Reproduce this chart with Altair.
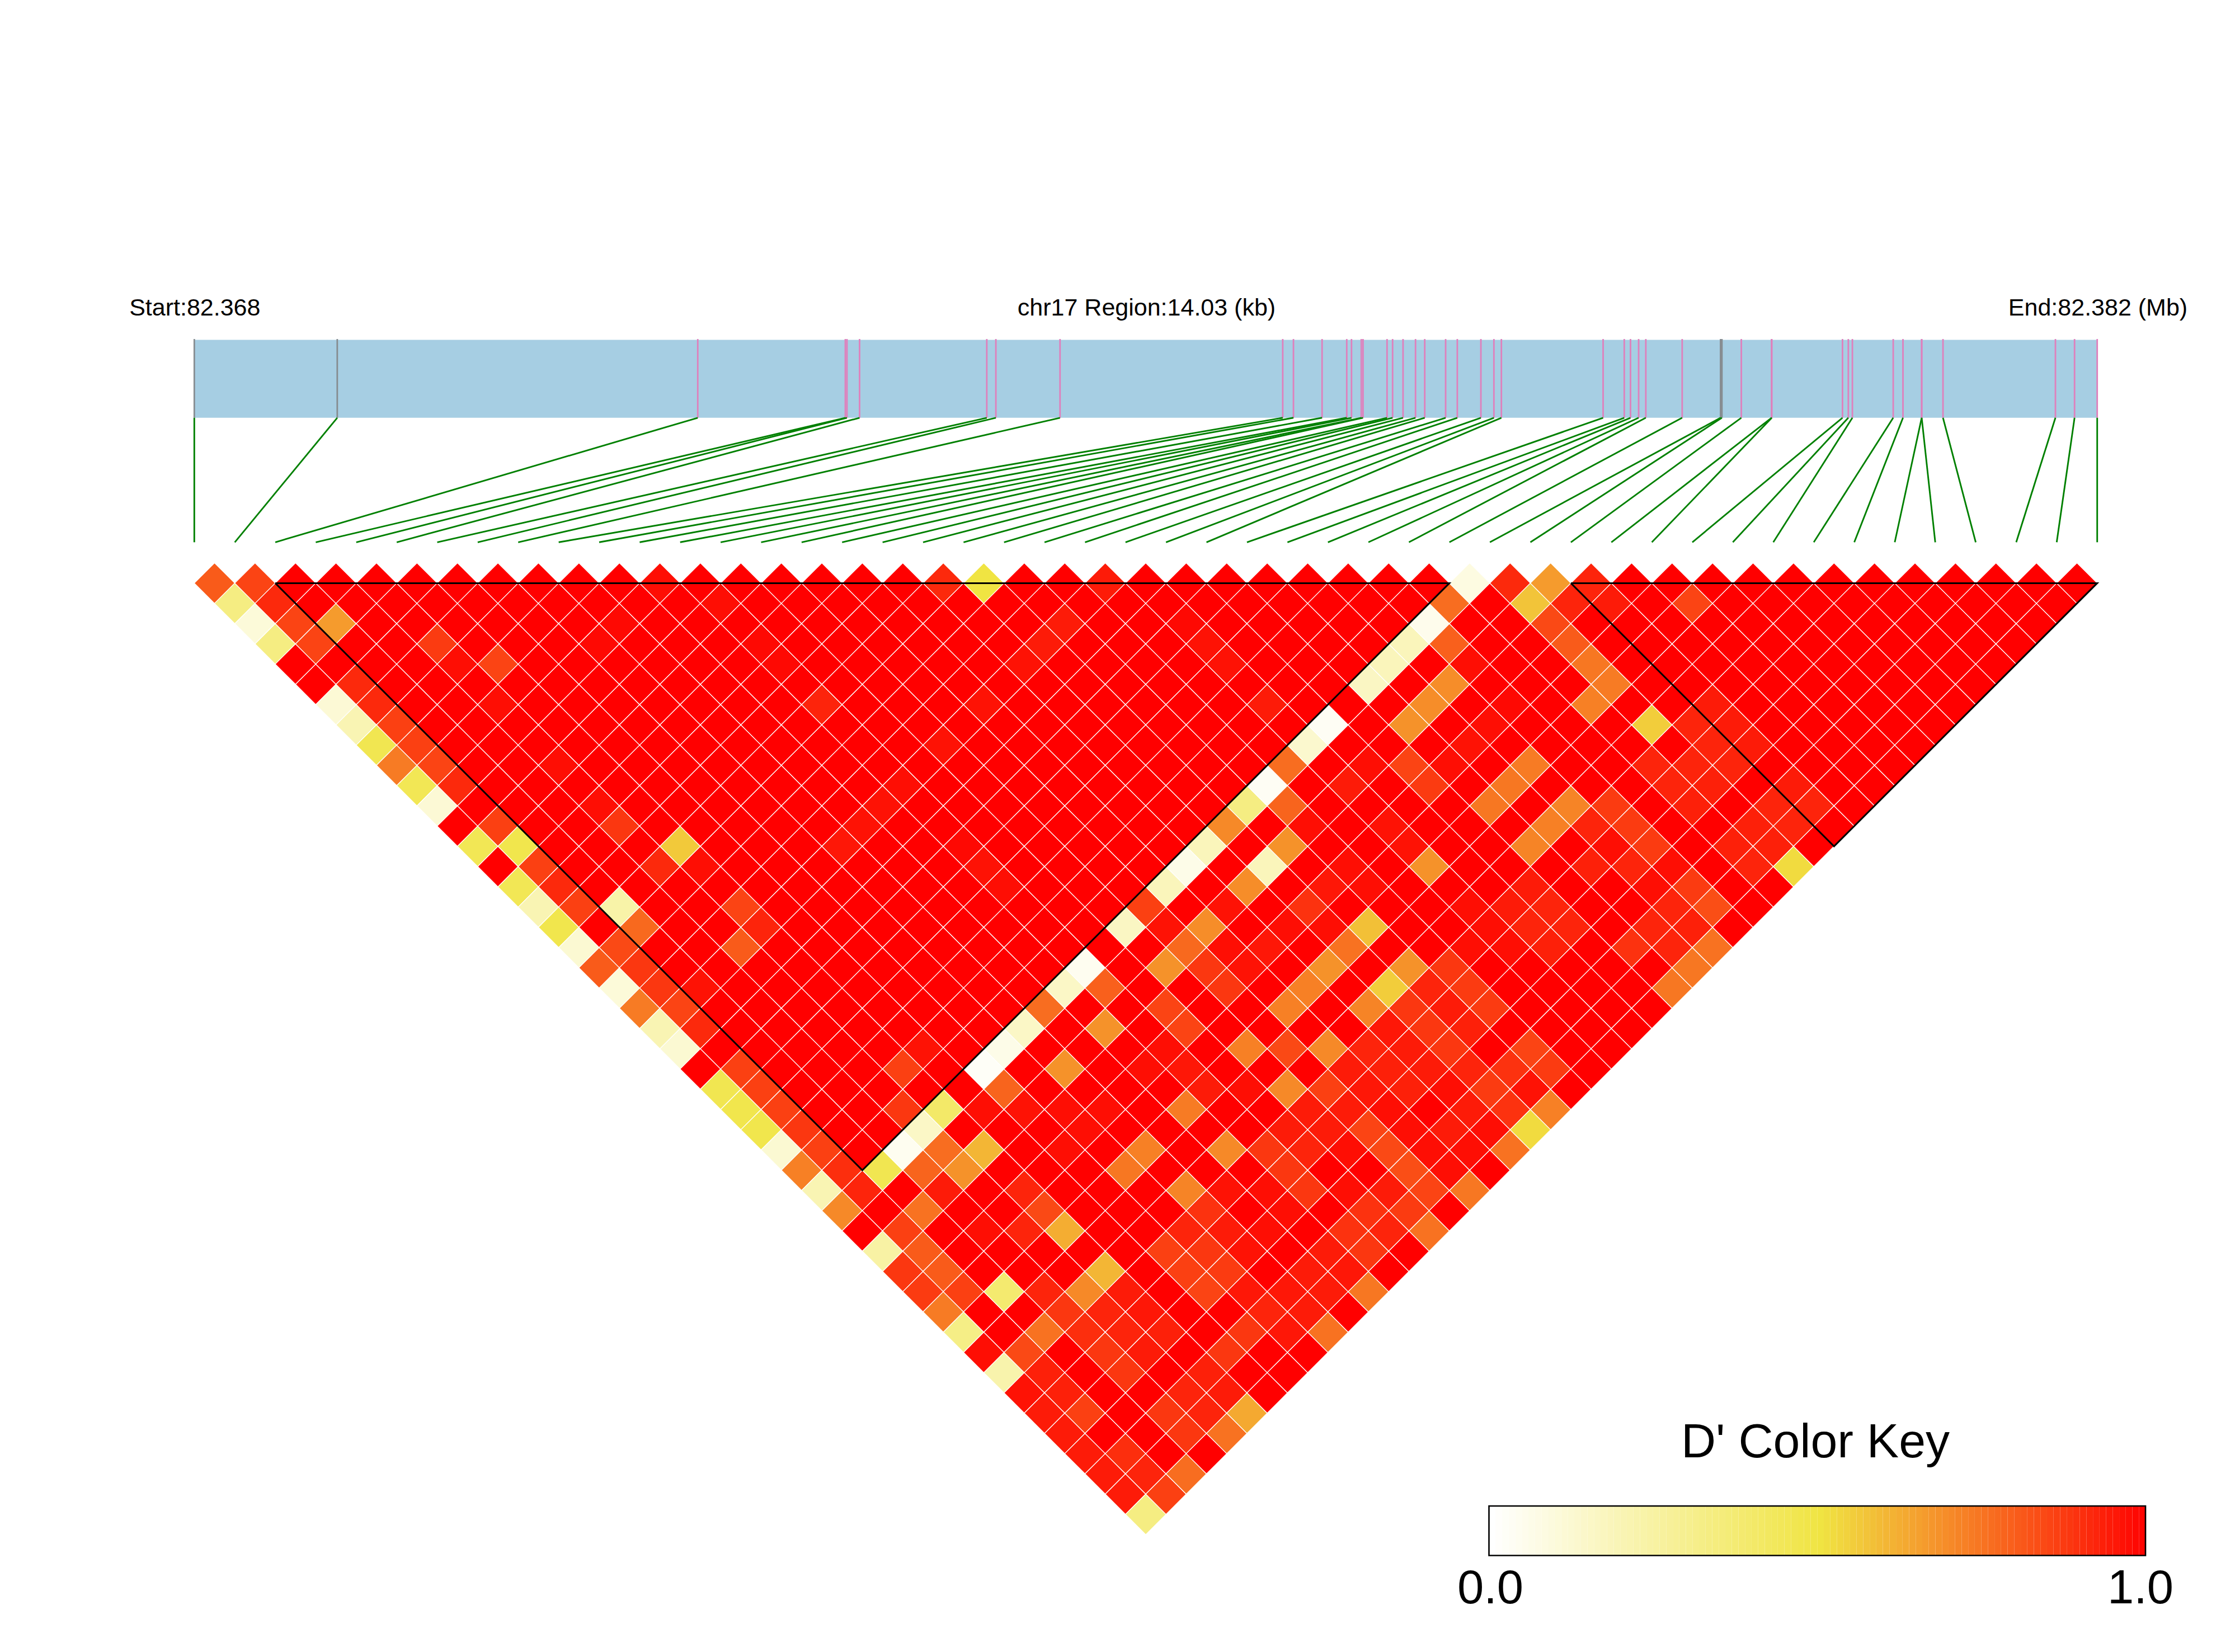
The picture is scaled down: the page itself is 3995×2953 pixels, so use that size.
import altair as alt
import pandas as pd

# ---------- data ----------
REGION_KB = 14.03
N_SNP = 48
# SNP positions along the region, kb from the start
SNP_KB = [0, 1.054, 3.712, 4.800, 4.812, 4.905, 5.843, 5.910, 6.383, 8.025, 8.104, 8.315,
          8.497, 8.532, 8.604, 8.617, 8.794, 8.835, 8.912, 9.004, 9.072, 9.226, 9.312, 9.486,
          9.582, 9.637, 10.387, 10.543, 10.589, 10.649, 10.702, 10.970, 11.253, 11.263, 11.406,
          11.629, 11.631, 12.152, 12.195, 12.225, 12.526, 12.598, 12.736, 12.736, 12.893,
          13.722, 13.863, 14.03]
GRAY_SNPS = [0, 1, 32, 33]
LD_BLOCKS = [(2, 31), (34, 47)]

# D' of every pair below 1.0, one table for each right-hand SNP j: {i: D'}
j01 = {0: .80}
j02 = {0: .33, 1: .85}
j03 = {0: .10, 1: .91}
j04 = {0: .33, 1: .85}
j05 = {1: .85, 2: .66}
j07 = {0: .11, 1: .91}
j08 = {0: .20, 1: .91, 4: .87}
j09 = {0: .46, 1: .86, 4: .97}
j10 = {0: .73, 1: .86, 5: .85}
j11 = {0: .45, 1: .85, 4: .97}
j12 = {0: .11, 1: .91, 8: .98, 9: .98, 11: .97}
j14 = {0: .45, 1: .86, 4: .97, 12: .97}
j15 = {1: .47}
j16 = {0: .45, 1: .86, 4: .97, 12: .98}
j17 = {0: .20, 1: .91, 4: .88, 12: .98}
j18 = {0: .47, 1: .86}
j19 = {0: .12, 2: .23, 4: .91, 5: .56, 12: .92, 18: .91}
j20 = {0: .80, 1: .84, 2: .77, 5: .97, 19: .50}
j21 = {0: .10, 1: .88}
j22 = {0: .73, 1: .88, 5: .85}
j23 = {0: .20, 1: .85, 2: .96, 4: .80, 5: .92, 9: .95, 10: .96, 11: .96, 12: .97, 14: .96,
       16: .96, 18: .96, 19: .94, 20: .94, 22: .94}
j24 = {0: .12, 1: .91}
j26 = {0: .46, 1: .86, 12: .98, 23: .98}
j27 = {0: .47, 1: .86, 12: .96, 23: .96}
j28 = {0: .47, 1: .86, 12: .97, 23: .96}
j29 = {0: .12, 1: .88}
j30 = {0: .72, 1: .86, 5: .86, 6: .96, 23: .94}
j31 = {0: .20, 1: .90, 4: .88}
j32 = {0: .70, 1: .92, 2: .46, 3: .04, 4: .15, 5: .40, 7: .02, 8: .06, 9: .15, 10: .76, 11: .15,
       12: .04, 14: .16, 15: .86, 16: .18, 17: .06, 18: .18, 19: .70, 20: .33, 21: .03, 22: .76,
       23: .13, 24: .03, 26: .16, 27: .18, 28: .18, 29: .05, 30: .76, 31: .08}
j33 = {3: .78, 4: .76, 6: .97, 7: .78, 12: .79, 15: .96, 21: .78, 29: .79, 32: .91}
j34 = {0: .24, 1: .86, 2: .75, 3: .94, 4: .68, 5: .60, 7: .96, 9: .68, 11: .68, 14: .68, 15: .77,
       16: .69, 17: .96, 18: .69, 19: .18, 20: .68, 21: .97, 23: .94, 24: .97, 26: .68, 27: .69,
       28: .69, 29: .97, 32: .57, 33: .66}
j35 = {0: .88, 1: .80, 8: .97, 13: .85, 15: .88, 16: .97, 25: .85, 32: .84, 33: .92, 34: .92}
j36 = {0: .87, 1: .80, 3: .97, 5: .92, 7: .97, 8: .97, 9: .97, 11: .97, 12: .97, 13: .85, 15: .88,
       16: .96, 17: .95, 18: .97, 19: .89, 20: .95, 21: .97, 23: .96, 25: .87, 26: .97, 27: .96,
       28: .97, 29: .98, 32: .80, 34: .94}
j37 = {0: .73, 1: .86, 4: .92, 5: .84, 12: .95, 19: .97, 21: .97, 23: .96, 32: .74}
j38 = {0: .32, 2: .38, 5: .62, 8: .74, 9: .72, 11: .73, 12: .94, 14: .72, 16: .72, 17: .72, 18: .68,
       19: .75, 20: .58, 23: .68, 26: .74, 27: .74, 28: .73, 31: .72, 32: .73, 36: .85}
j39 = {0: .97, 3: .92, 13: .97, 15: .84}
j40 = {0: .22, 1: .84, 2: .75, 3: .88, 4: .70, 5: .60, 9: .71, 11: .70, 14: .70, 16: .70, 18: .71,
       19: .55, 20: .68, 23: .97, 26: .71, 27: .72, 28: .71, 32: .55}
j41 = {0: .96, 1: .93, 3: .90, 4: .92, 5: .94, 7: .86, 8: .92, 9: .89, 10: .96, 12: .88, 13: .94,
       14: .94, 15: .86, 16: .94, 17: .92, 18: .95, 19: .88, 20: .92, 21: .88, 22: .97, 23: .97,
       24: .94, 25: .94, 28: .92, 29: .87, 31: .92, 33: .92, 34: .94}
j42 = {0: .94, 1: .93, 3: .88, 4: .92, 5: .95, 7: .86, 8: .88, 9: .94, 11: .97, 12: .88, 13: .92,
       14: .94, 15: .94, 16: .95, 17: .93, 18: .94, 19: .88, 20: .94, 21: .87, 23: .97, 24: .92,
       25: .92, 27: .93, 28: .97, 29: .87, 31: .92, 32: .92, 33: .92, 34: .94}
j43 = {0: .94, 1: .86, 3: .88, 4: .94, 5: .93, 7: .85, 8: .87, 9: .96, 10: .97, 11: .97, 12: .88,
       14: .97, 15: .85, 16: .97, 17: .93, 18: .94, 19: .88, 20: .93, 21: .87, 24: .93, 25: .92,
       28: .92, 29: .87, 31: .93, 32: .93, 33: .92, 34: .94}
j44 = {0: .94, 8: .95, 13: .97, 15: .84, 16: .97, 18: .97, 19: .92, 28: .97, 29: .97}
j45 = {0: .94, 1: .90, 3: .88, 4: .92, 5: .93, 6: .88, 7: .88, 8: .92, 9: .95, 10: .94, 11: .94,
       12: .89, 13: .89, 14: .94, 15: .83, 16: .97, 17: .94, 18: .94, 19: .87, 20: .89, 21: .85,
       26: .89, 27: .92, 28: .92, 29: .87, 31: .93, 32: .93, 33: .92, 34: .94}
j46 = {0: .94, 1: .92, 3: .88, 4: .92, 5: .94, 8: .95, 9: .94, 10: .94, 11: .95, 12: .88, 13: .92,
       14: .87, 15: .85, 16: .97, 17: .97, 18: .97, 19: .89, 20: .96, 21: .87, 27: .92, 28: .93,
       29: .83, 31: .92, 32: .93, 33: .92, 34: .92}
j47 = {0: .33, 1: .86, 2: .76, 4: .75, 5: .63, 9: .75, 11: .74, 14: .75, 16: .74, 18: .75, 19: .52,
       20: .72, 26: .74, 27: .74, 28: .75, 32: .52}
BELOW_ONE = {1: j01, 2: j02, 3: j03, 4: j04, 5: j05, 7: j07, 8: j08, 9: j09, 10: j10, 11: j11, 12: j12,
             14: j14, 15: j15, 16: j16, 17: j17, 18: j18, 19: j19, 20: j20, 21: j21, 22: j22, 23: j23,
             24: j24, 26: j26, 27: j27, 28: j28, 29: j29, 30: j30, 31: j31, 32: j32, 33: j33, 34: j34,
             35: j35, 36: j36, 37: j37, 38: j38, 39: j39, 40: j40, 41: j41, 42: j42, 43: j43, 44: j44,
             45: j45, 46: j46, 47: j47}
KEY_LEVELS = [k / 100 for k in range(100)]

# ---------- page geometry (picture pixels) ----------
W, H = 3975, 2930
SNP_X0, SNP_DX = 347.3, 72.37
ROW_Y0, ROW_DY = 1042.4, 36.185
BAR_TOP, BAR_BOTTOM, LINK_BOTTOM = 607.5, 746.8, 969.3
KEY_L, KEY_R, KEY_T, KEY_B = 2661.5, 3835.0, 2692.0, 2780.5
FONT = "Liberation Sans"


def sx(px):
    return (px - SNP_X0) / SNP_DX


def ry(py):
    return (py - ROW_Y0) / ROW_DY


x_scale = alt.Scale(domain=[sx(8), sx(8 + W)], nice=False, zero=False)
y_scale = alt.Scale(domain=[ry(8 + H), ry(8)], nice=False, zero=False)
color_scale = alt.Scale(domain=[0, 0.5, 1], range=["#FFFFFF", "#F0E442", "#FF0000"], interpolate="rgb")


def X(f):
    return alt.X(f, type="quantitative", scale=x_scale, axis=None)


def Y(f):
    return alt.Y(f, type="quantitative", scale=y_scale, axis=None)


def snp_s(kb):
    return kb / REGION_KB * (N_SNP - 1)


# ---------- tables ----------
cells = pd.DataFrame([
    {"s": (i + j) / 2, "r": j - i - 1, "d": BELOW_ONE.get(j, {}).get(i, 1.0)}
    for j in range(1, N_SNP) for i in range(j)
])
bar = pd.DataFrame({"a": [0], "b": [N_SNP - 1], "t": [ry(BAR_TOP)], "u": [ry(BAR_BOTTOM)]})
snps = pd.DataFrame({
    "s": [snp_s(k) for k in SNP_KB],
    "end": list(range(N_SNP)),
    "kind": ["gray" if i in GRAY_SNPS else "pink" for i in range(N_SNP)],
    "t": ry(BAR_TOP - 1.5), "u": ry(BAR_BOTTOM), "v": ry(LINK_BOTTOM),
})
tri = pd.DataFrame([
    {"block": n, "seq": q, "s": s, "r": r}
    for n, (a, b) in enumerate(LD_BLOCKS)
    for q, (s, r) in enumerate([(a, 0), (b, 0), ((a + b) / 2, b - a), (a, 0)])
])
head = pd.DataFrame({
    "label": ["Start:82.368", "chr17 Region:14.03 (kb)", "End:82.382 (Mb)"],
    "s": [sx(348.3), sx(2049.5), sx(3750)],
    "r": [ry(564)] * 3,
})
key_w = (KEY_R - KEY_L) / len(KEY_LEVELS)
key = pd.DataFrame({
    "d": KEY_LEVELS,
    "a": [sx(KEY_L + n * key_w) for n in range(len(KEY_LEVELS))],
    "b": [sx(KEY_L + (n + 1) * key_w) for n in range(len(KEY_LEVELS))],
    "t": ry(KEY_T), "u": ry(KEY_B),
})
key_box = pd.DataFrame({"a": [sx(KEY_L)], "b": [sx(KEY_R)], "t": [ry(KEY_T)], "u": [ry(KEY_B)]})
key_title = pd.DataFrame({"label": ["D' Color Key"], "s": [sx(3245)], "r": [ry(2605)]})
key_ticks = pd.DataFrame({"label": ["0.0", "1.0"], "s": [sx(2664), sx(3826)], "r": [ry(2866)] * 2})

# ---------- layers ----------
l_bar = alt.Chart(bar).mark_rect(color="#A6CEE3").encode(x=X("a"), x2="b", y=Y("t"), y2="u")
l_marks = alt.Chart(snps).mark_rule(strokeWidth=2.8).encode(
    x=X("s"), y=Y("t"), y2="u",
    color=alt.Color("kind:N", legend=None,
                    scale=alt.Scale(domain=["gray", "pink"], range=["#868C90", "#DF80BC"])),
)
l_links = alt.Chart(snps).transform_calculate(sv="datum.end").mark_rule(
    color="#008000", strokeWidth=2.9
).encode(x=X("s"), x2="sv:Q", y=Y("u"), y2="v")
l_cells = alt.Chart(cells).mark_point(
    shape="diamond", filled=True, size=SNP_DX ** 2, stroke="white", strokeWidth=1.3, opacity=1
).encode(x=X("s"), y=Y("r"), color=alt.Color("d:Q", scale=color_scale, legend=None))
l_tri = alt.Chart(tri).mark_line(color="black", strokeWidth=3, strokeJoin="miter").encode(
    x=X("s"), y=Y("r"), detail="block:N", order="seq:Q"
)
l_head = alt.Chart(head).mark_text(
    font=FONT, fontSize=43, color="black", align="center", baseline="alphabetic"
).encode(x=X("s"), y=Y("r"), text="label:N")
l_key = alt.Chart(key).mark_rect().encode(
    x=X("a"), x2="b", y=Y("t"), y2="u", color=alt.Color("d:Q", scale=color_scale, legend=None)
)
l_box = alt.Chart(key_box).mark_rect(fillOpacity=0, stroke="black", strokeWidth=2.6).encode(
    x=X("a"), x2="b", y=Y("t"), y2="u"
)
l_ktitle = alt.Chart(key_title).mark_text(
    font=FONT, fontSize=86, color="black", align="center", baseline="alphabetic"
).encode(x=X("s"), y=Y("r"), text="label:N")
l_kticks = alt.Chart(key_ticks).mark_text(
    font=FONT, fontSize=85, color="black", align="center", baseline="alphabetic"
).encode(x=X("s"), y=Y("r"), text="label:N")

chart = alt.layer(
    l_bar, l_marks, l_links, l_cells, l_tri, l_head, l_key, l_box, l_ktitle, l_kticks
).resolve_scale(color="independent").properties(
    width=W, height=H, padding=0, autosize=alt.AutoSizeParams(type="none"),
    background="white",
).configure_view(stroke=None)

chart.save("out.html", embed_options={"renderer": "svg", "actions": False})
